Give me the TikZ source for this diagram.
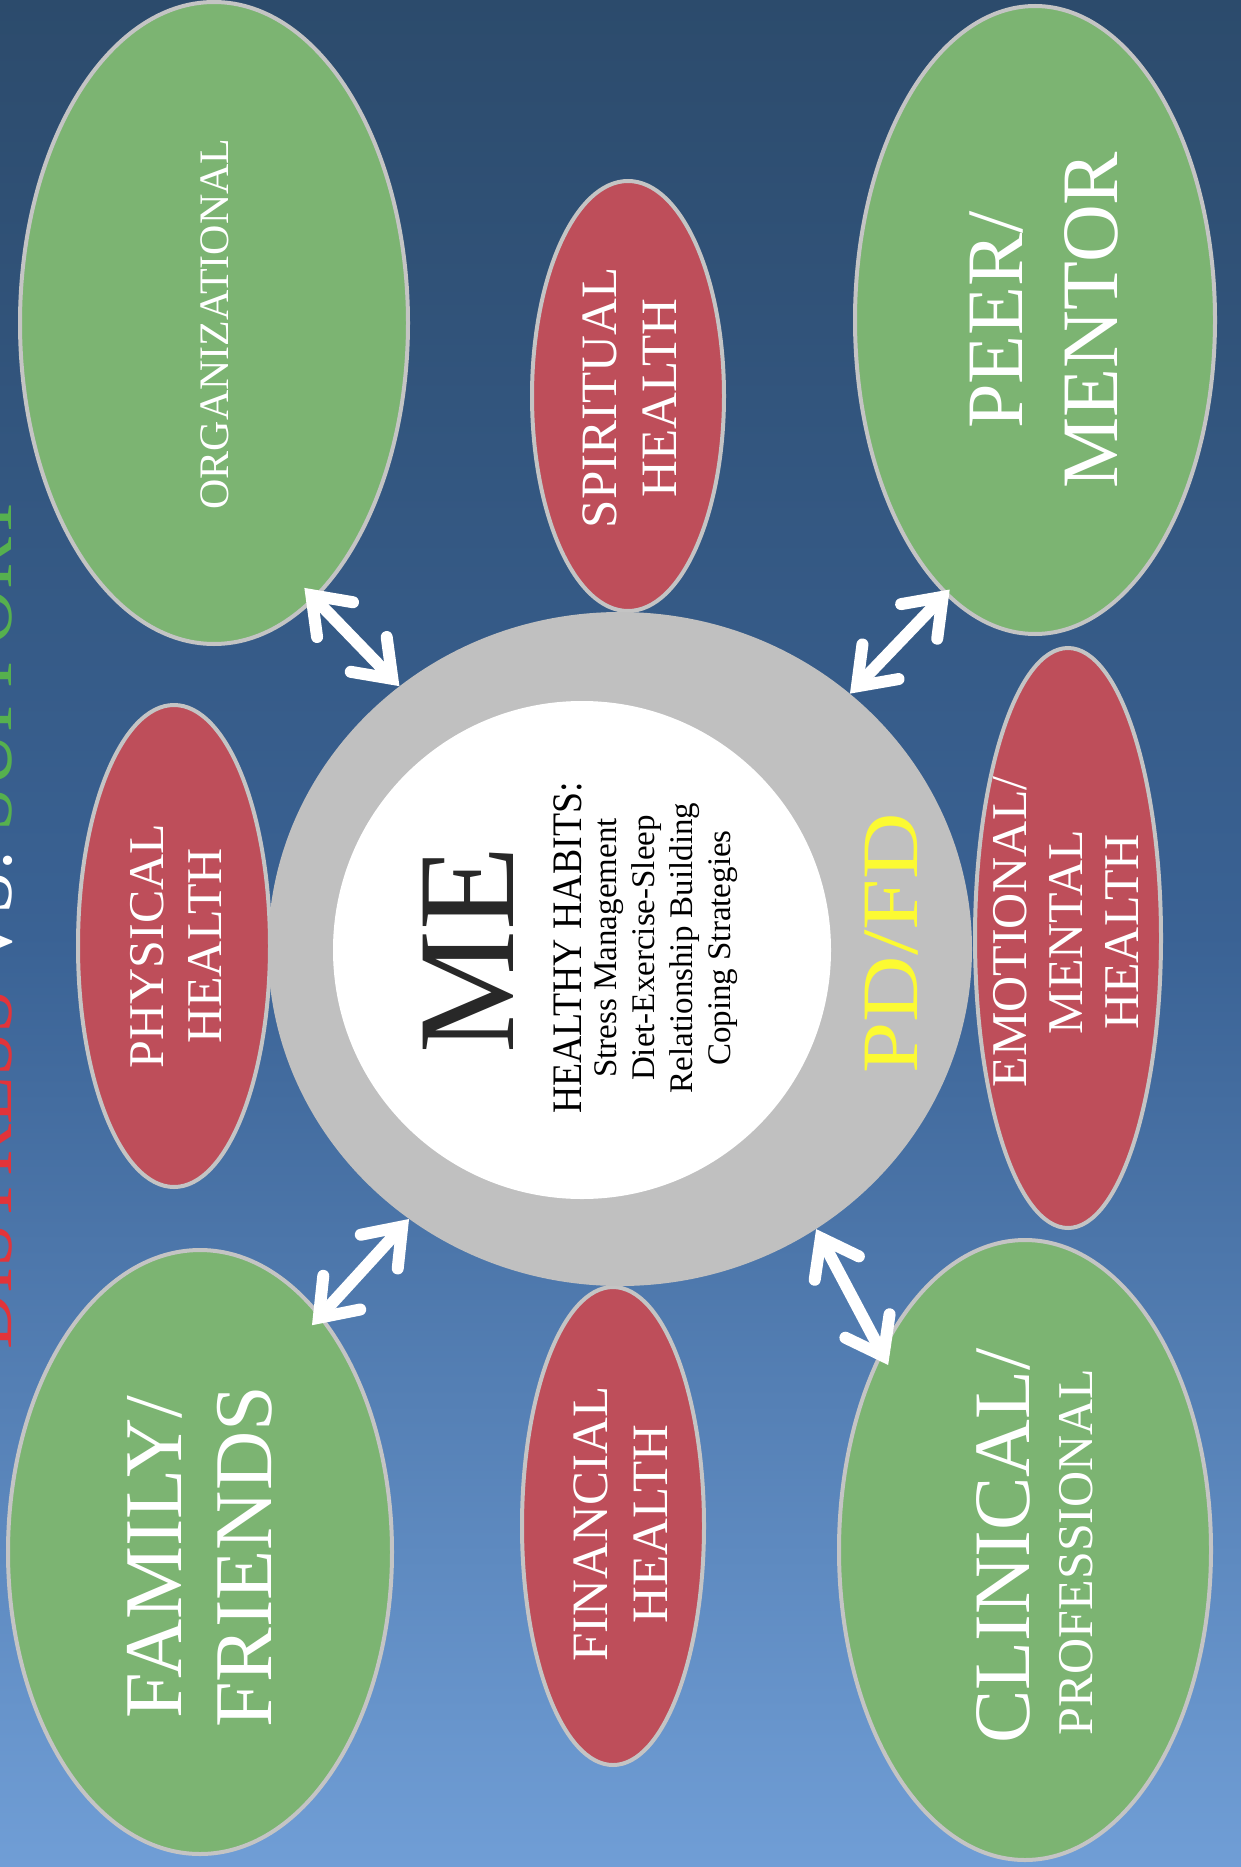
\documentclass[tikz,border=0pt]{standalone}
\usepackage{fontspec}
\usepackage{graphicx}
\setmainfont{Liberation Serif}
\usetikzlibrary{shapes.geometric,arrows.meta}
\definecolor{bgtop}{RGB}{44,75,108}
\definecolor{bgmid}{RGB}{58,98,148}
\definecolor{bgbot}{RGB}{112,158,214}
\definecolor{ellgreen}{RGB}{124,180,114}
\definecolor{ellred}{RGB}{190,78,90}
\definecolor{ellrim}{RGB}{196,196,196}
\definecolor{ringgray}{RGB}{192,192,192}
\definecolor{pdyellow}{RGB}{252,250,50}
\definecolor{titlered}{RGB}{226,52,58}
\definecolor{titlegreen}{RGB}{86,176,78}
\definecolor{mecol}{RGB}{40,40,40}
\begin{document}
\begin{tikzpicture}[x=1pt,y=-1pt,
  oval/.style={ellipse, draw=ellrim, line width=4pt, inner sep=0pt, outer sep=0pt},
  greenoval/.style={oval, fill=ellgreen},
  redoval/.style={oval, fill=ellred},
  lbl/.style={rotate=90, text=white, align=center, inner sep=0pt},
  arr/.style={draw=white, line width=12pt,
    arrows={Straight Barb[length=34pt 0 0,width=50pt 0 0,line cap=round]-Straight Barb[length=34pt 0 0,width=50pt 0 0,line cap=round]}}
]
\shade[top color=bgtop, bottom color=bgbot, middle color=bgmid] (0,0) rectangle (1241,1867);
\useasboundingbox (0,0) rectangle (1241,1867);

\begin{scope}
\clip (0,0) rectangle (1241,1867);
\node[rotate=90, anchor=base, inner sep=0pt, font=\fontsize{78}{78}\selectfont] (title) at (11,922)
  {\textcolor{titlered}{DISTRESS} \textcolor{white}{VS.} \textcolor{titlegreen}{SUPPORT}};
\end{scope}

% support ovals
\node[greenoval, minimum width=388pt, minimum height=642pt] (org) at (214,323) {};
\node[greenoval, minimum width=360pt, minimum height=628pt] (peer) at (1035,320) {};
\node[greenoval, minimum width=384pt, minimum height=604pt] (fam) at (200,1552) {};
\node[greenoval, minimum width=372pt, minimum height=620pt] (clin) at (1025,1550) {};
% health ovals
\node[redoval, minimum width=192pt, minimum height=430pt] (spir) at (628,396) {};
\node[redoval, minimum width=192pt, minimum height=482pt] (phys) at (174,946) {};
\node[redoval, minimum width=186pt, minimum height=580pt] (emo) at (1068,938) {};
\node[redoval, minimum width=182pt, minimum height=478pt] (fin) at (613,1526) {};

% centre
\node[ellipse, fill=ringgray, inner sep=0pt, minimum width=704pt, minimum height=674pt] (ring) at (620,949) {};
\node[circle, fill=white, inner sep=0pt, minimum size=498pt] (core) at (582,950) {};

% labels
\node[lbl, font=\fontsize{42}{42}\selectfont] (orgtxt) at (215,324) {ORGANIZATIONAL};
\node[lbl, font=\fontsize{80}{95}\selectfont] (peertxt) at (1044,320) {PEER/\\MENTOR};
\node[lbl, font=\fontsize{82}{90}\selectfont] (famtxt) at (200,1557) {FAMILY/\\FRIENDS};
\node[lbl, font=\fontsize{80}{80}\selectfont] (clin1) at (1003,1546) {CLINICAL/};
\node[lbl, font=\fontsize{50}{50}\selectfont] (clin2) at (1076,1552) {PROFESSIONAL};
\node[lbl, font=\fontsize{51}{60}\selectfont] (spirtxt) at (630,398) {SPIRITUAL\\HEALTH};
\node[lbl, font=\fontsize{50}{58}\selectfont] (phystxt) at (176,946) {PHYSICAL\\HEALTH};
\node[lbl, font=\fontsize{50}{56}\selectfont] (emotxt) at (1066,932) {EMOTIONAL/\\MENTAL\\HEALTH};
\node[lbl, font=\fontsize{51}{60}\selectfont] (fintxt) at (621,1524) {FINANCIAL\\HEALTH};
\node[lbl, text=pdyellow, font=\fontsize{80}{80}\selectfont] (pdfd) at (892,943) {\scalebox{1.15}[1]{PD/FD}};
\node[lbl, text=mecol, font=\fontsize{138}{138}\selectfont] (me) at (468,950) {ME};
\node[lbl, text=black, font=\fontsize{42}{42}\selectfont] (hh) at (568,948) {\scalebox{0.9}[1]{HEALTHY HABITS:}};
\node[lbl, text=black, font=\fontsize{33}{38}\selectfont] (habits) at (666,948)
  {Stress Management\\Diet-Exercise-Sleep\\Relationship Building\\Coping Strategies};

% connectors
\draw[arr, shorten <=-14pt] (org.-70) -- (ring.130);
\draw[arr, shorten <=-5pt] (peer.252) -- (ring.48);
\draw[arr, shorten <=-12pt] (fam.63) -- (ring.232);
\draw[arr, shorten <=-14pt] (clin.126) -- (ring.-55);
\end{tikzpicture}
\end{document}
